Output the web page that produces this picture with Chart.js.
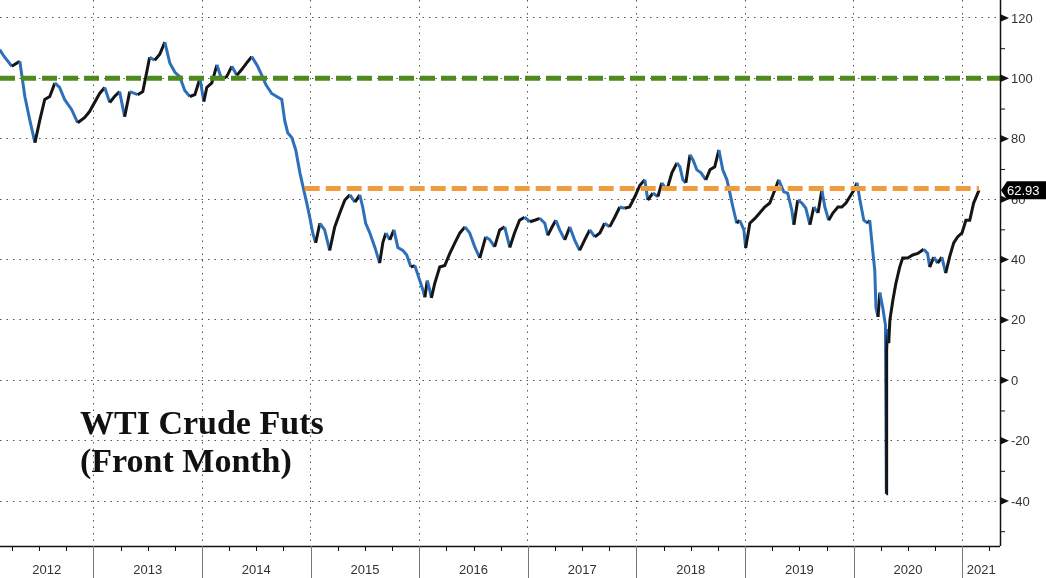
<!DOCTYPE html>
<html>
<head>
<meta charset="utf-8">
<script src="https://cdn.jsdelivr.net/npm/chart.js@4"></script>
<style>
    body { margin: 0; background: #fff; }
    #wrap { position: relative; width: 1046px; height: 578px; }
    #title {
        position: absolute; left: 80px; top: 404px;
        font-family: "Liberation Serif", "DejaVu Serif", serif;
        font-weight: bold; font-size: 34px; line-height: 38px; color: #111;
    }
</style>
</head>
<body>
<div id="wrap">
    <canvas id="chart" width="1046" height="578"></canvas>
    <div id="title">WTI Crude Futs<br>(Front Month)</div>
</div>
<script>
// WTI front month
const dates = [
    '2012-02-20','2012-03-08','2012-04-01','2012-04-28','2012-05-15','2012-06-01','2012-06-18','2012-07-04',
    '2012-07-21','2012-08-07','2012-08-24','2012-09-09','2012-09-26','2012-10-20','2012-11-09','2012-12-02',
    '2012-12-19','2013-01-22','2013-02-08','2013-02-25','2013-03-13','2013-03-30','2013-04-16','2013-05-03',
    '2013-05-30','2013-06-16','2013-06-29','2013-07-09','2013-07-26','2013-08-12','2013-08-29','2013-09-15',
    '2013-10-02','2013-10-18','2013-11-04','2013-11-21','2013-12-08','2013-12-25','2014-01-07','2014-01-17',
    '2014-02-03','2014-02-20','2014-03-08','2014-03-25','2014-04-11','2014-04-28','2014-05-15','2014-06-04',
    '2014-06-17','2014-07-07','2014-07-21','2014-08-03','2014-08-23','2014-09-09','2014-09-26','2014-10-06',
    '2014-10-16','2014-10-30','2014-11-12','2014-11-26','2014-12-09','2014-12-19','2014-12-29','2015-01-08',
    '2015-01-18','2015-02-01','2015-02-17','2015-03-06','2015-03-23','2015-04-09','2015-04-26','2015-05-13',
    '2015-05-30','2015-06-15','2015-06-25','2015-07-05','2015-07-19','2015-08-05','2015-08-21','2015-09-01',
    '2015-09-11','2015-09-24','2015-10-08','2015-10-21','2015-11-07','2015-11-20','2015-12-04','2015-12-17',
    '2016-01-03','2016-01-13','2016-01-20','2016-01-28','2016-02-05','2016-02-11','2016-02-22','2016-03-10',
    '2016-03-27','2016-04-13','2016-04-30','2016-05-17','2016-06-03','2016-06-19','2016-07-06','2016-07-23',
    '2016-08-12','2016-08-26','2016-09-11','2016-09-28','2016-10-15','2016-11-01','2016-11-17','2016-12-04',
    '2016-12-21','2017-01-08','2017-01-24','2017-02-10','2017-02-27','2017-03-09','2017-03-22','2017-04-05',
    '2017-04-18','2017-05-05','2017-05-22','2017-06-07','2017-06-24','2017-07-11','2017-07-28','2017-08-14',
    '2017-08-31','2017-09-16','2017-10-03','2017-10-20','2017-11-06','2017-11-22','2017-12-09','2017-12-26',
    '2018-01-12','2018-01-29','2018-02-08','2018-02-25','2018-03-14','2018-03-27','2018-04-13','2018-04-30',
    '2018-05-17','2018-05-27','2018-06-06','2018-06-16','2018-06-30','2018-07-10','2018-07-23','2018-08-06',
    '2018-08-22','2018-09-05','2018-09-21','2018-10-05','2018-10-18','2018-11-01','2018-11-11','2018-11-21',
    '2018-12-04','2018-12-14','2018-12-28','2019-01-03','2019-01-17','2019-02-03','2019-02-19','2019-03-08',
    '2019-03-25','2019-04-11','2019-04-24','2019-05-11','2019-05-24','2019-06-07','2019-06-14','2019-06-27',
    '2019-07-11','2019-07-24','2019-08-07','2019-08-20','2019-09-03','2019-09-16','2019-09-26','2019-10-09',
    '2019-10-23','2019-11-09','2019-11-22','2019-12-06','2019-12-19','2020-01-02','2020-01-12','2020-01-22',
    '2020-02-04','2020-02-18','2020-02-24','2020-03-06','2020-03-12','2020-03-16','2020-03-23','2020-03-29',
    '2020-04-08','2020-04-14','2020-04-17','2020-04-20','2020-04-21','2020-04-24','2020-04-28','2020-05-02',
    '2020-05-12','2020-05-22','2020-06-04','2020-06-14','2020-07-01','2020-07-18','2020-08-04','2020-08-24',
    '2020-09-06','2020-09-13','2020-09-27','2020-10-10','2020-10-24','2020-11-06','2020-11-19','2020-12-03',
    '2020-12-16','2020-12-31','2021-01-13','2021-01-26','2021-02-08','2021-02-22','2021-02-26'
];
const prices = [
    109.5, 107, 104, 105.7, 94, 86, 78.7, 86,
    93, 94, 98.5, 97, 93, 89.6, 85.3, 87,
    89, 95, 97, 92, 94, 95.6, 87.3, 95.6,
    94.6, 95.6, 102, 107, 106, 108, 112, 105,
    102, 100.6, 96, 94, 94.6, 100, 92.3, 97,
    98.5, 104.5, 99.6, 100.6, 104, 101, 103, 105.6,
    107.2, 104, 101, 98, 95, 94, 93, 86,
    82, 80.3, 76.3, 68.7, 63, 58.7, 54, 48.8,
    45.5, 52, 49.8, 43, 50.8, 55.4, 59.7, 61.4,
    59, 61.4, 57.4, 52, 48.8, 44, 38.8, 45.8,
    48.8, 46.5, 49.8, 44, 43, 41.5, 37.5, 38,
    33, 30, 27.5, 33, 30, 27.3, 32, 37.5,
    38, 42, 45.5, 48.8, 50.8, 48.8, 44.2, 40.5,
    47.5, 46.5, 44.2, 49.8, 50.8, 44, 48.8, 53,
    54, 52.5, 53, 53.6, 52, 48, 50.5, 53,
    49.8, 46.5, 50.8, 46.5, 43, 46.5, 49.8, 47.5,
    48.8, 52, 50.8, 54, 57.4, 57, 57.4, 60.7,
    64.5, 66.4, 59.7, 62, 60.8, 65.4, 63, 68.7,
    72, 70.7, 66.4, 65.4, 74.7, 73, 69.7, 68.7,
    66.4, 69.7, 70.7, 76.3, 69.7, 66.4, 62, 57.4,
    52, 53, 49.8, 43.8, 52, 53.6, 55.4, 57.4,
    58.7, 63, 66.4, 62.4, 62, 56.4, 51.5, 59.7,
    58.7, 57, 51.5, 57.4, 55.4, 63, 57.4, 53,
    55.4, 57.4, 57.4, 58.7, 60.8, 63, 65.4, 59.7,
    53, 52, 53, 42, 36.5, 24, 21, 29,
    24, 20.1, 18.3, -37.6, 10, 17, 12.3, 20,
    26.5, 32, 37.5, 40.5, 40.5, 41.5, 42, 43.4,
    42, 37.5, 40.8, 38.8, 40.8, 35.5, 40.8, 45.5,
    47.5, 48.8, 53, 53, 58.7, 62, 62.93
];

// reference levels
const level100 = 100;
const level100Span = [2012.14, 2021.347];
const level63 = 63.5;
const level63Span = ['2014-12-12', '2021-02-26'];

const lastPrice = 62.93;
const yearLabels = ['2012','2013','2014','2015','2016','2017','2018','2019','2020','2021'];
const yTickValues = [-50,-40,-30,-20,-10,0,10,20,30,40,50,60,70,80,90,100,110,120];

const xMin = 2012.14, xMax = 2021.347;
const yMin = -54.9, yMax = 125.96;

function toYear(s) {
    const [y, m, d] = s.split('-').map(Number);
    const t = Date.UTC(y, m - 1, d), s0 = Date.UTC(y, 0, 1), s1 = Date.UTC(y + 1, 0, 1);
    return y + (t - s0) / (s1 - s0);
}

const pricePoints = dates.map((d, i) => ({ x: toYear(d), y: prices[i] }));

const axisDecor = {
    id: 'axisDecor',
    afterDraw(chart) {
        const ctx = chart.ctx;
        const { left, right, top, bottom } = chart.chartArea;
        const xs = chart.scales.x, ys = chart.scales.y;
        ctx.save();
        ctx.strokeStyle = '#111';
        ctx.lineWidth = 1.5;
        ctx.beginPath();
        ctx.moveTo(left, bottom + 0.5); ctx.lineTo(right, bottom + 0.5);
        ctx.moveTo(right + 0.5, top); ctx.lineTo(right + 0.5, bottom);
        ctx.stroke();

        // right axis ticks and labels
        ctx.fillStyle = '#111';
        ctx.font = '13px "Liberation Sans", Arial, sans-serif';
        ctx.textBaseline = 'middle';
        ctx.textAlign = 'left';
        yTickValues.forEach(v => {
            const y = ys.getPixelForValue(v);
            if (v % 20 === 0) {
                ctx.beginPath();
                ctx.moveTo(right, y - 4); ctx.lineTo(right + 9, y); ctx.lineTo(right, y + 4);
                ctx.closePath(); ctx.fill();
                ctx.fillStyle = '#333';
                ctx.fillText(String(v), right + 11, y + 1);
                ctx.fillStyle = '#111';
            } else {
                ctx.lineWidth = 1;
                ctx.beginPath();
                ctx.moveTo(right, y + 0.5); ctx.lineTo(right + 5, y + 0.5);
                ctx.stroke();
            }
        });

        // bottom axis: quarter ticks, year separators, labels
        ctx.lineWidth = 1;
        for (let q = 2012.25; q < xMax; q += 0.25) {
            if (q < xMin || Math.abs(q - Math.round(q)) < 0.01) continue;
            const x = Math.round(xs.getPixelForValue(q)) + 0.5;
            ctx.beginPath(); ctx.moveTo(x, bottom); ctx.lineTo(x, bottom + 5); ctx.stroke();
        }
        ctx.strokeStyle = '#777';
        ctx.textAlign = 'center';
        ctx.fillStyle = '#333';
        yearLabels.forEach(lbl => {
            const yr = Number(lbl);
            const x0 = Math.max(left, xs.getPixelForValue(yr));
            const x1 = Math.min(right, xs.getPixelForValue(yr + 1));
            if (yr > xMin) {
                const x = Math.round(x0) + 0.5;
                ctx.beginPath(); ctx.moveTo(x, bottom); ctx.lineTo(x, chart.height); ctx.stroke();
            }
            ctx.fillText(lbl, (x0 + x1) / 2, bottom + 24);
        });

        // last value tag
        const ly = ys.getPixelForValue(lastPrice);
        ctx.fillStyle = '#000';
        ctx.beginPath();
        ctx.moveTo(right + 1, ly);
        ctx.lineTo(right + 7, ly - 9);
        ctx.lineTo(chart.width, ly - 9);
        ctx.lineTo(chart.width, ly + 9);
        ctx.lineTo(right + 7, ly + 9);
        ctx.closePath(); ctx.fill();
        ctx.fillStyle = '#fff';
        ctx.textAlign = 'left';
        ctx.fillText(lastPrice.toFixed(2), right + 7, ly + 1);
        ctx.restore();
    }
};

new Chart(document.getElementById('chart'), {
    type: 'line',
    data: {
        datasets: [
            {
                label: 'WTI',
                data: pricePoints,
                borderWidth: 3,
                pointRadius: 0,
                tension: 0,
                borderColor: '#2e6fba',
                segment: {
                    borderColor: c => c.p1.parsed.y >= c.p0.parsed.y ? '#151515' : '#2e6fba'
                },
                order: 3
            },
            {
                label: '100',
                data: level100Span.map(x => ({ x: x, y: level100 })),
                borderColor: '#4f8a1f',
                borderWidth: 5,
                borderDash: [15, 6],
                pointRadius: 0,
                order: 1
            },
            {
                label: '63.5',
                data: level63Span.map(d => ({ x: toYear(d), y: level63 })),
                borderColor: '#ef9c3f',
                borderWidth: 5,
                borderDash: [15, 6],
                pointRadius: 0,
                order: 2
            }
        ]
    },
    options: {
        responsive: false,
        animation: false,
        layout: { padding: 0 },
        plugins: { legend: { display: false }, tooltip: { enabled: false } },
        scales: {
            x: {
                type: 'linear',
                min: xMin,
                max: xMax,
                afterBuildTicks: s => { s.ticks = yearLabels.slice(1).map(y => ({ value: Number(y) })); },
                afterFit: s => { s.height = 32; },
                ticks: { display: false },
                grid: { color: '#555', lineWidth: 1, drawTicks: false },
                border: { display: false, dash: [1.5, 5] }
            },
            y: {
                position: 'right',
                min: yMin,
                max: yMax,
                afterBuildTicks: s => { s.ticks = yTickValues.map(v => ({ value: v })); },
                afterFit: s => { s.width = 46; },
                ticks: { display: false },
                grid: {
                    color: c => (c.tick && c.tick.value % 20 === 0) ? '#555' : 'rgba(0,0,0,0)',
                    lineWidth: 1,
                    drawTicks: false
                },
                border: { display: false, dash: [1.5, 5] }
            }
        }
    },
    plugins: [axisDecor]
});
</script>
</body>
</html>
